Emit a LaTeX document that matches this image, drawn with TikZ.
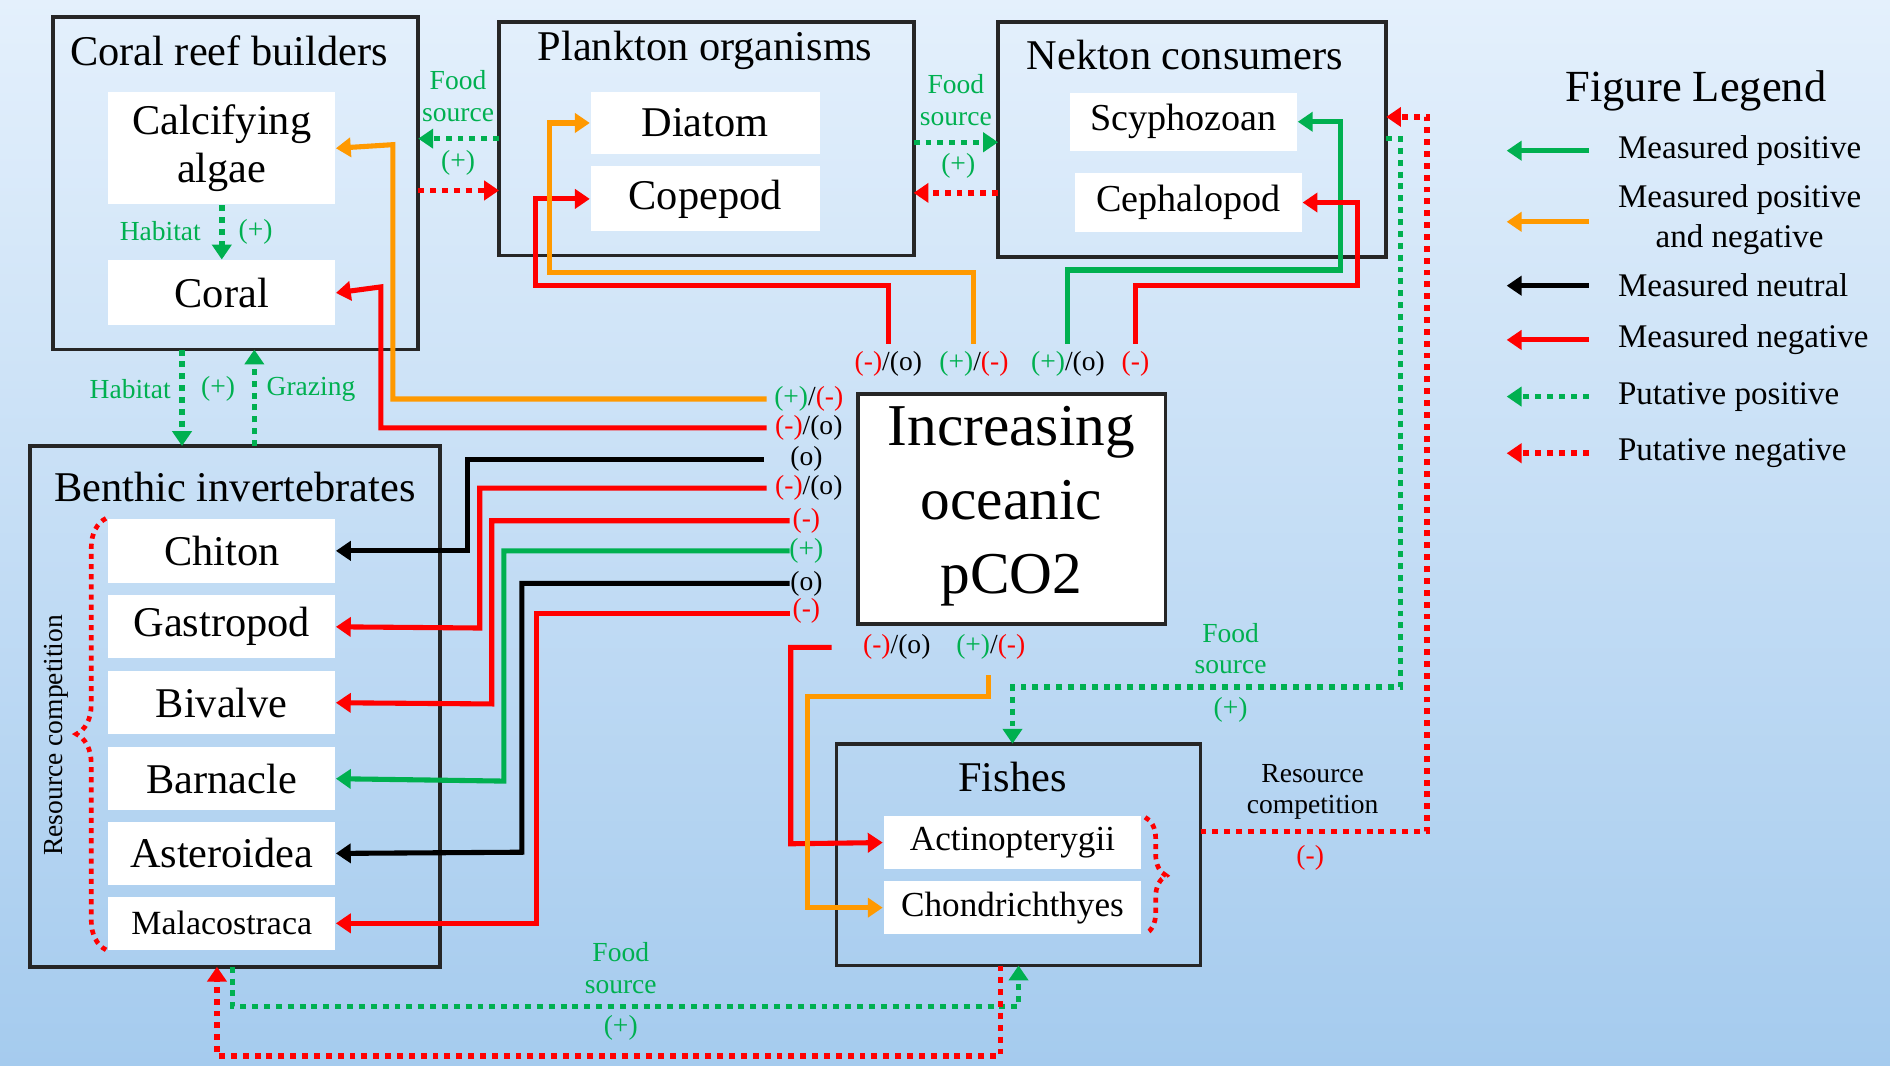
\documentclass[tikz,border=0pt]{standalone}
\usepackage{fontspec}
\setmainfont{Liberation Serif}
\usetikzlibrary{arrows.meta,decorations.pathreplacing}
\definecolor{gr}{RGB}{0,176,80}
\definecolor{orn}{RGB}{255,153,0}
\definecolor{rd}{RGB}{255,0,0}
\begin{document}
\begin{tikzpicture}[x=0.1mm,y=-0.1mm,
 box/.style={draw=black!85,line width=0.9pt},
 wb/.style={fill=white,inner sep=0pt,font=\fontsize{10}{11.5}\selectfont},
 ttl/.style={font=\fontsize{10}{12}\selectfont},
 lab/.style={font=\fontsize{6.5}{7.5}\selectfont,inner sep=0pt},
 ln/.style={line width=1.2pt,-{Triangle[length=3.5pt,width=4.5pt]}},
 dt/.style={line width=1.3pt,dash pattern=on 1.4pt off 1.4pt,-{Triangle[length=3.5pt,width=4.5pt]}},
 leg/.style={font=\fontsize{7.8}{9.5}\selectfont,anchor=west,align=center}]
\shade[top color={rgb,255:red,228;green,240;blue,252},bottom color={rgb,255:red,165;green,203;blue,238}] (0,0) rectangle (1568,884);
\useasboundingbox (0,0) rectangle (1568,884);
% boxes
\draw[box] (44,14) rectangle (347,290);
\node[ttl] (crb) at (190,42) {Coral reef builders};
\node[wb,minimum width=18.8mm,minimum height=9.3mm,align=center] (calc) at (184,123) {Calcifying\\algae};
\node[wb,minimum width=18.8mm,minimum height=5.4mm] (coral) at (184,243) {Coral};
\draw[box] (414,18) rectangle (758,212);
\node[ttl] (plk) at (585,42) {Plankton organisms};
\node[wb,minimum width=19mm,minimum height=5.2mm] (diat) at (585,102) {Diatom};
\node[wb,minimum width=19mm,minimum height=5.4mm] (cope) at (585,165) {Copepod};
\draw[box] (828,18) rectangle (1150,213);
\node[ttl] (nek) at (983,46) {Nekton consumers};
\node[wb,minimum width=18.8mm,minimum height=4.8mm,font=\fontsize{9}{11}\selectfont] (scy) at (982,101) {Scyphozoan};
\node[wb,minimum width=18.8mm,minimum height=4.9mm,font=\fontsize{9}{11}\selectfont] (ceph) at (986,168) {Cephalopod};
\draw[box,fill=white] (712,327) rectangle (967,518);
\node[font=\fontsize{14}{17.5}\selectfont,align=center] (pco) at (839,420) {Increasing\\oceanic\\pCO2};
\draw[box] (25,370) rectangle (365,802);
\node[ttl] (ben) at (195,404) {Benthic invertebrates};
\foreach \n/\t/\y/\h in {chi/Chiton/457/5.3,gas/Gastropod/520/5.2,biv/Bivalve/583/5.2,bar/Barnacle/646/5.2,ast/Asteroidea/708/5.2}
  \node[wb,minimum width=18.8mm,minimum height=\h mm] (\n) at (184,\y) {\t};
\node[wb,minimum width=18.8mm,minimum height=4.4mm,font=\fontsize{8}{9}\selectfont] (mal) at (184,766) {Malacostraca};
\draw[box] (694,617) rectangle (996,801);
\node[ttl] (fis) at (840,645) {Fishes};
\node[wb,minimum width=21.4mm,minimum height=4.4mm,font=\fontsize{8.3}{9}\selectfont] (act) at (840,699) {Actinopterygii};
\node[wb,minimum width=21.4mm,minimum height=4.4mm,font=\fontsize{8.3}{9}\selectfont] (cho) at (840,753) {Chondrichthyes};
% labels
\def\R#1{\textcolor{rd}{#1}}\def\G#1{\textcolor{gr}{#1}}
\node[lab] (l1) at (671,331) {\G{(+)}/\R{(-)}};
\node[lab] (l2) at (671,355) {\R{(-)}/(o)};
\node[lab] (b1) at (669,381) {(o)};
\node[lab] (b2) at (671,405) {\R{(-)}/(o)};
\node[lab] (b3) at (669,432) {\R{(-)}};
\node[lab] (b4) at (669,457) {\G{(+)}};
\node[lab] (b5) at (669,484) {(o)};
\node[lab] (b6) at (669,507) {\R{(-)}};
\node[lab] (t1) at (737,302) {\R{(-)}/(o)};
\node[lab] (t2) at (808,302) {\G{(+)}/\R{(-)}};
\node[lab] (t3) at (886,302) {\G{(+)}/(o)};
\node[lab] (t4) at (942,302) {\R{(-)}};
\node[lab] (f1) at (744,537) {\R{(-)}/(o)};
\node[lab] (f2) at (822,537) {\G{(+)}/\R{(-)}};
% measured arrows
\draw[ln,orn] (636,331) -| (326,120) -- (calc.east);
\draw[ln,rd] (636,355) -| (316,238) -- (coral.east);
\draw[ln,black] (634,381) -| (388,457) -- (chi.east);
\draw[ln,rd] (636,405) -| (398,521) -- (gas.east);
\draw[ln,rd] (655,432) -| (408,584) -- (biv.east);
\draw[ln,gr] (655,457) -| (418,648) -- (bar.east);
\draw[ln,black] (655,484) -| (433,707) -- (ast.east);
\draw[ln,rd] (655,509) -| (445,766) -- (mal.east);
\draw[ln,rd] (737,285) |- (444,237) |- (cope.west);
\draw[ln,orn] (808,285) |- (456,226) |- (diat.west);
\draw[ln,gr] (886,285) |- (1112,224) |- (scy.east);
\draw[ln,rd] (942,285) |- (1126,237) |- (ceph.east);
\draw[ln,rd] (690,537) -| (656,700) -- (act.west);
\draw[ln,orn] (820,560) |- (670,578) |- (cho.west);
% putative
\draw[dt,gr] (414,115) -- (347,115);
\draw[dt,rd] (347,158) -- (414,158);
\node[lab,align=center,text=gr] (fs1) at (380,80) {Food\\source};
\node[lab,text=gr] (p1) at (380,135) {(+)};
\draw[dt,gr] (758,118) -- (828,118);
\draw[dt,rd] (828,160) -- (758,160);
\node[lab,align=center,text=gr] (fs2) at (793,83) {Food\\source};
\node[lab,text=gr] (p2) at (795,138) {(+)};
\draw[dt,gr] (calc.south) -- (coral.north);
\node[lab,text=gr] (hab1) at (133,192) {Habitat};
\node[lab,text=gr] (p3) at (212,192) {(+)};
\draw[dt,gr] (151,290) -- (151,370);
\draw[dt,gr] (211,370) -- (211,290);
\node[lab,text=gr] (hab2) at (108,323) {Habitat};
\node[lab,text=gr] (p4) at (181,323) {(+)};
\node[lab,text=gr] (grz) at (258,323) {Grazing};
\draw[dt,gr] (1150,115) -- (1162,115) |- (840,570) -- (840,617);
\node[lab,align=center,text=gr] (fs3) at (1021,538) {Food\\source};
\node[lab,text=gr] (p5) at (1021,589) {(+)};
\draw[dt,rd] (996,690) -| (1184,97) -- (1150,97);
\node[lab,align=center] (rc) at (1089,657) {Resource\\competition};
\node[lab,text=rd] (m1) at (1087,712) {(-)};
\draw[dt,gr] (193,802) |- (845,835) -- (845,801);
\draw[dt,rd] (830,801) |- (180,876) -- (180,802);
\node[lab,align=center,text=gr] (fs4) at (515,803) {Food\\source};
\node[lab,text=gr] (p6) at (515,853) {(+)};
% braces
\draw[rd,line width=1.1pt,dash pattern=on 1.2pt off 1.2pt,decorate,decoration={brace,amplitude=7pt}] (88,788) -- (88,430);
\node[lab,rotate=90] (rc2) at (47,610) {Resource competition};
\draw[rd,line width=1.1pt,dash pattern=on 1.2pt off 1.2pt,decorate,decoration={brace,amplitude=5pt}] (950,678) -- (950,775);
% legend
\node[font=\fontsize{10.5}{12}\selectfont] (lt) at (1407,75) {Figure Legend};
\draw[ln,gr] (1318,125) -- (1250,125); \node[leg] (g1) at (1330,125) {Measured positive};
\draw[ln,orn] (1318,184) -- (1250,184); \node[leg] (g2) at (1330,182) {Measured positive\\and negative};
\draw[ln,black] (1318,237) -- (1250,237); \node[leg] (g3) at (1330,237) {Measured neutral};
\draw[ln,rd] (1318,282) -- (1250,282); \node[leg] (g4) at (1330,282) {Measured negative};
\draw[dt,gr] (1318,329) -- (1250,329); \node[leg] (g5) at (1330,329) {Putative positive};
\draw[dt,rd] (1318,376) -- (1250,376); \node[leg] (g6) at (1330,376) {Putative negative};
\end{tikzpicture}
\end{document}
